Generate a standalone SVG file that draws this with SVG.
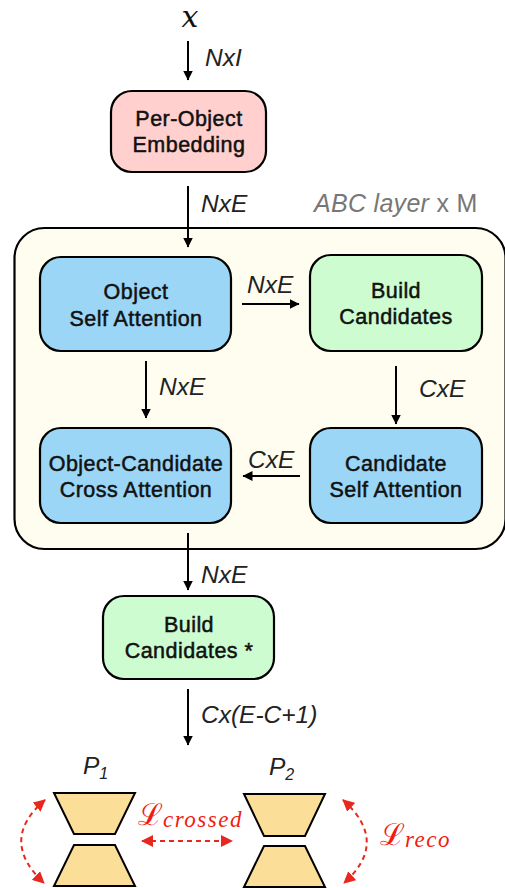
<svg xmlns="http://www.w3.org/2000/svg" width="505" height="888" viewBox="0 0 505 888">
<style>
text{font-family:"Liberation Sans",Arial,sans-serif;fill:#111}
.n{font-size:21.500px;letter-spacing:.45px;text-anchor:middle;stroke:#111;stroke-width:.5px}
.e{font-size:24.500px;font-style:italic;fill:#222}
.box{stroke:#000;stroke-width:2.2}
.line{stroke:#000;stroke-width:2;fill:none}
.red{stroke:#e8281e;stroke-width:2;fill:none;stroke-dasharray:5 4}
.trap{fill:#fbdf98;stroke:#000;stroke-width:2}
.l{font-family:"DejaVu Serif","Liberation Serif",serif;fill:#f01c14;font-size:30px}
.s{font-family:"Liberation Serif",serif;font-style:italic;fill:#f01c14;font-size:23px;letter-spacing:1.500px}
</style>
<defs>
<marker id="a" markerWidth="11" markerHeight="10" refX="9.500" refY="5" orient="auto" markerUnits="userSpaceOnUse"><path d="M0 0L10 5L0 10Z" fill="#000"/></marker>
<marker id="r" markerWidth="13" markerHeight="12" refX="11" refY="6" orient="auto-start-reverse" markerUnits="userSpaceOnUse"><path d="M0 0L12 6L0 12Z" fill="#e8281e"/></marker>
</defs>
<rect width="505" height="888" fill="#fff"/>
<g id="abc-layer"><rect class="box" x="14.500" y="228" width="491" height="321" rx="30" fill="#fffdf0"/><text x="314" y="212" style="font-size:25px;fill:#777;letter-spacing:.3px"><tspan font-style="italic">ABC layer</tspan> x M</text></g>
<g id="input-x"><text x="190" y="27" style="font-family:'DejaVu Serif','Liberation Serif',serif;font-style:italic;font-size:30px;letter-spacing:0;text-anchor:middle">x</text></g>
<g id="per-object"><rect class="box" x="111" y="91" width="155" height="81" rx="21" fill="#ffd0ce"/><text class="n" x="189" y="126">Per-Object</text><text class="n" x="189" y="152">Embedding</text></g>
<g id="object-self"><rect class="box" x="40" y="257" width="191" height="94" rx="21" fill="#9bd6f6"/><text class="n" x="136" y="299">Object</text><text class="n" x="136" y="326">Self Attention</text></g>
<g id="build-1"><rect class="box" x="310" y="255" width="172" height="96" rx="21" fill="#ccfccf"/><text class="n" x="396" y="298">Build</text><text class="n" x="396" y="324">Candidates</text></g>
<g id="cross"><rect class="box" x="40" y="428" width="191" height="95" rx="21" fill="#9bd6f6"/><text class="n" x="136" y="471">Object-Candidate</text><text class="n" x="136" y="497">Cross Attention</text></g>
<g id="cand-self"><rect class="box" x="310" y="428" width="172" height="95" rx="21" fill="#9bd6f6"/><text class="n" x="396" y="471">Candidate</text><text class="n" x="396" y="497">Self Attention</text></g>
<g id="build-2"><rect class="box" x="103" y="596" width="171" height="83" rx="21" fill="#ccfccf"/><text class="n" x="189" y="632">Build</text><text class="n" x="189" y="658">Candidates *</text></g>
<g id="connectors">
<path class="line" marker-end="url(#a)" d="M188 41V80"/>
<path class="line" marker-end="url(#a)" d="M188 186V247"/>
<path class="line" marker-end="url(#a)" d="M242 304H299"/>
<path class="line" marker-end="url(#a)" d="M146 361V418"/>
<path class="line" marker-end="url(#a)" d="M396 366V424"/>
<path class="line" marker-end="url(#a)" d="M300 476H243"/>
<path class="line" marker-end="url(#a)" d="M188 533V590"/>
<path class="line" marker-end="url(#a)" d="M188 689V745"/>
<path class="red" marker-start="url(#r)" marker-end="url(#r)" d="M45 800Q-2 840 44 883"/>
<path class="red" marker-start="url(#r)" marker-end="url(#r)" d="M142 841H232"/>
<path class="red" marker-start="url(#r)" marker-end="url(#r)" d="M343 800Q390 842 344 883"/>
</g>
<g id="labels">
<text class="e" x="205" y="66">NxI</text><text class="e" x="201" y="212">NxE</text><text class="e" x="247" y="293">NxE</text><text class="e" x="159" y="395">NxE</text><text class="e" x="419" y="397">CxE</text><text class="e" x="248" y="468">CxE</text><text class="e" x="201" y="583">NxE</text><text class="e" x="201" y="723">Cx(E-C+1)</text>
</g>
<g id="p1"><text class="e" x="83" y="774">P<tspan font-size="16" dy="5">1</tspan></text><path class="trap" d="M54 793H135L115 834H74Z"/><path class="trap" d="M74 845H115L135 886H54Z"/></g>
<g id="p2"><text class="e" x="269" y="775">P<tspan font-size="16" dy="5">2</tspan></text><path class="trap" d="M244 794H325L305 836H264Z"/><path class="trap" d="M264 846H305L325 887H244Z"/></g>
<g id="loss"><text class="l" x="138" y="825">ℒ</text><text class="s" x="163" y="827">crossed</text><text class="l" x="380" y="845">ℒ</text><text class="s" x="405" y="847">reco</text></g>
</svg>
